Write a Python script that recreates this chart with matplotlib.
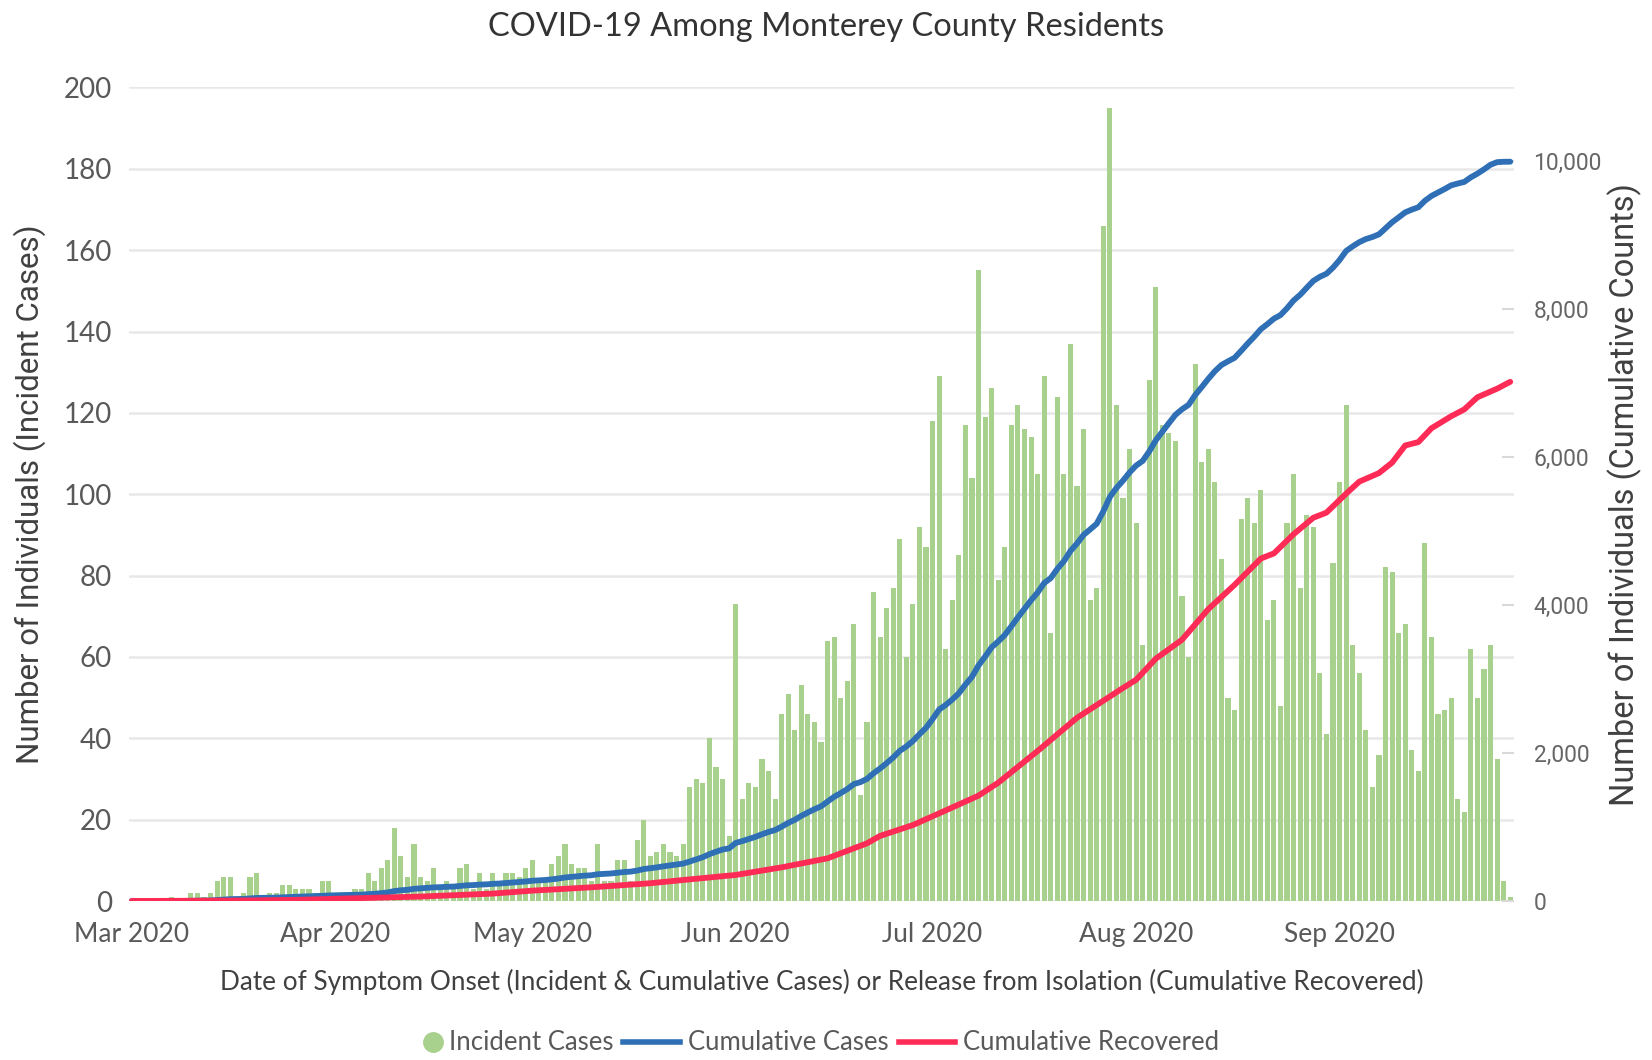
import numpy as np
import matplotlib
matplotlib.use("Agg")
import matplotlib.pyplot as plt
from matplotlib.lines import Line2D
from matplotlib.legend_handler import HandlerLine2D
from matplotlib.ticker import FuncFormatter

# daily incident cases by symptom onset date (Mar 1 .. Sep 27, 2020)
mar = [0, 0, 0, 0, 0, 0, 1, 0, 0, 2, 2, 1, 2, 5, 6, 6, 1, 2, 6, 7, 1, 2, 2, 4, 4, 3, 3, 3, 2, 5, 5]
apr = [2, 2, 1, 3, 3, 7, 5, 8, 10, 18, 11, 6, 14, 6, 5, 8, 3, 5, 3, 8, 9, 3, 7, 3, 7, 4, 7, 7, 6, 8]
may = [10, 5, 5, 9, 11, 14, 9, 8, 8, 5, 14, 5, 5, 10, 10, 5, 15, 20, 11, 12, 14, 12, 11, 14,
       28, 30, 29, 40, 33, 30, 16]
jun = [73, 25, 29, 28, 35, 32, 25, 46, 51, 42, 53, 46, 44, 39, 64, 65, 50, 54, 68, 26, 44, 76,
       65, 72, 77, 89, 60, 73, 92, 87]
jul = [118, 129, 62, 74, 85, 117, 104, 155, 119, 126, 79, 87, 117, 122, 116, 114, 105, 129, 66,
       124, 105, 137, 102, 116, 74, 77, 166, 195, 122, 99, 111]
aug = [93, 63, 128, 151, 117, 115, 113, 75, 60, 132, 108, 111, 103, 84, 50, 47, 94, 99, 93, 101,
       69, 74, 48, 93, 105, 77, 95, 92, 56, 41, 83]
sep = [103, 122, 63, 56, 42, 28, 36, 82, 81, 66, 68, 37, 32, 88, 65, 46, 47, 50, 25, 22, 62, 50,
       57, 63, 35, 5, 1]

# cumulative recovered (day offset from Mar 1, count)
rec_day = [0, 15, 25, 31, 44, 55, 61, 70, 79, 84, 92, 99, 106, 112, 114, 119, 124, 129, 132, 138,
           144, 151, 153, 156, 160, 164, 168, 172, 174, 177, 180, 182, 185, 187, 190, 192, 194,
           196, 198, 201, 203, 205, 208, 210]
rec_val = [0, 5, 15, 30, 60, 100, 140, 185, 240, 284, 352, 455, 577, 780, 880, 1027, 1225, 1425,
           1600, 2028, 2477, 2880, 2991, 3276, 3533, 3946, 4274, 4630, 4700, 4960, 5182, 5251, 5508,
           5670, 5786, 5927, 6159, 6205, 6392, 6554, 6647, 6811, 6927, 7020]

month_ticks = ['2020-03-01', '2020-04-01', '2020-05-01', '2020-06-01', '2020-07-01',
               '2020-08-01', '2020-09-01']
month_labels = ['Mar 2020', 'Apr 2020', 'May 2020', 'Jun 2020', 'Jul 2020', 'Aug 2020', 'Sep 2020']

incident = np.array(mar + apr + may + jun + jul + aug + sep)
start = np.datetime64('2020-03-01')
dates = start + np.arange(len(incident))
cumulative = np.cumsum(incident)
rec_dates = start + np.array(rec_day)

narrow = ['Lato', 'DejaVu Sans']
plain = ['Roboto', 'DejaVu Sans']
grey = '#595959'
green = '#a9d18e'
blue = '#2e6fb5'
red = '#ff2b57'


class MarkerRight(HandlerLine2D):
    # put the legend dot just before the text, like the original
    def get_xdata(self, legend, xdescent, ydescent, width, height, fontsize):
        x = np.array([-xdescent + width - 0.3 * fontsize])
        return x, x


fig = plt.figure(figsize=(16.52, 10.6), dpi=100)
ax = fig.add_axes([0.0778, 0.15, 0.9165 - 0.0778, 0.9175 - 0.15])
ax2 = ax.twinx()

ax.bar(dates, incident, width=0.78, color=green, zorder=2)
ax2.plot(dates, cumulative, color=blue, lw=4.2, solid_capstyle='round', zorder=3)
ax2.plot(rec_dates, rec_val, color=red, lw=4.2, solid_capstyle='round', zorder=3)

ax.set_ylim(0, 200)
ax.set_yticks(range(0, 201, 20))
ax2.set_ylim(0, 11000)
ax2.set_yticks(range(0, 10001, 2000))
ax2.yaxis.set_major_formatter(FuncFormatter(lambda v, p: f'{int(v):,}'))
ax.set_xlim(start - np.timedelta64(12, 'h'), start + np.timedelta64(210, 'D') + np.timedelta64(14, 'h'))

ax.set_xticks([np.datetime64(m) for m in month_ticks])
ax.set_xticklabels(month_labels, family=narrow, fontsize=19, color=grey)
for lab in ax.get_yticklabels():
    lab.set_family(narrow)
ax.tick_params(axis='y', length=0, pad=12, labelsize=20, labelcolor=grey)
ax.tick_params(axis='x', length=0, pad=15)
ax2.tick_params(axis='y', direction='in', length=9, width=1.5, color='#d9d9d9',
                pad=14, labelsize=16.5, labelcolor='#666666')
for lab in ax2.get_yticklabels():
    lab.set_family(plain)

ax.grid(axis='y', color='#e8e8e8', lw=1.8, zorder=0)
ax.set_axisbelow(True)
for a in (ax, ax2):
    for s in a.spines.values():
        s.set_visible(False)

ax.set_ylabel('Number of Individuals (Incident Cases)', family=plain, fontsize=22.5,
              color='#404040')
ax.yaxis.set_label_coords(-0.0595, 0.5)
ax2.set_ylabel('Number of Individuals (Cumulative Counts)', family=plain, fontsize=23.5,
               color='#404040', rotation=90)
ax2.yaxis.set_label_coords(1.0675, 0.5)
ax.set_xlabel('Date of Symptom Onset (Incident & Cumulative Cases) or Release from Isolation '
              '(Cumulative Recovered)', family=narrow, fontsize=18.8, color='#404040', labelpad=16)

fig.text(0.5, 1 - 27 / 1060, 'COVID-19 Among Monterey County Residents', family=narrow,
         fontsize=23.5, color='#333333', ha='center', va='center')

handles = [Line2D([], [], ls='none', marker='o', ms=14, color=green),
           Line2D([], [], color=blue, lw=4),
           Line2D([], [], color=red, lw=4)]
leg = fig.legend(handles, ['Incident Cases', 'Cumulative Cases', 'Cumulative Recovered'],
                 loc='center', bbox_to_anchor=(0.4853, 1 - 1043 / 1060), ncol=3, frameon=False,
                 handlelength=2.2, handletextpad=0.3, columnspacing=0.4,
                 handler_map={handles[0]: MarkerRight(numpoints=1)},
                 prop={'family': narrow, 'size': 18.5})
for t in leg.get_texts():
    t.set_color(grey)

fig.savefig('out.png', dpi=100)
